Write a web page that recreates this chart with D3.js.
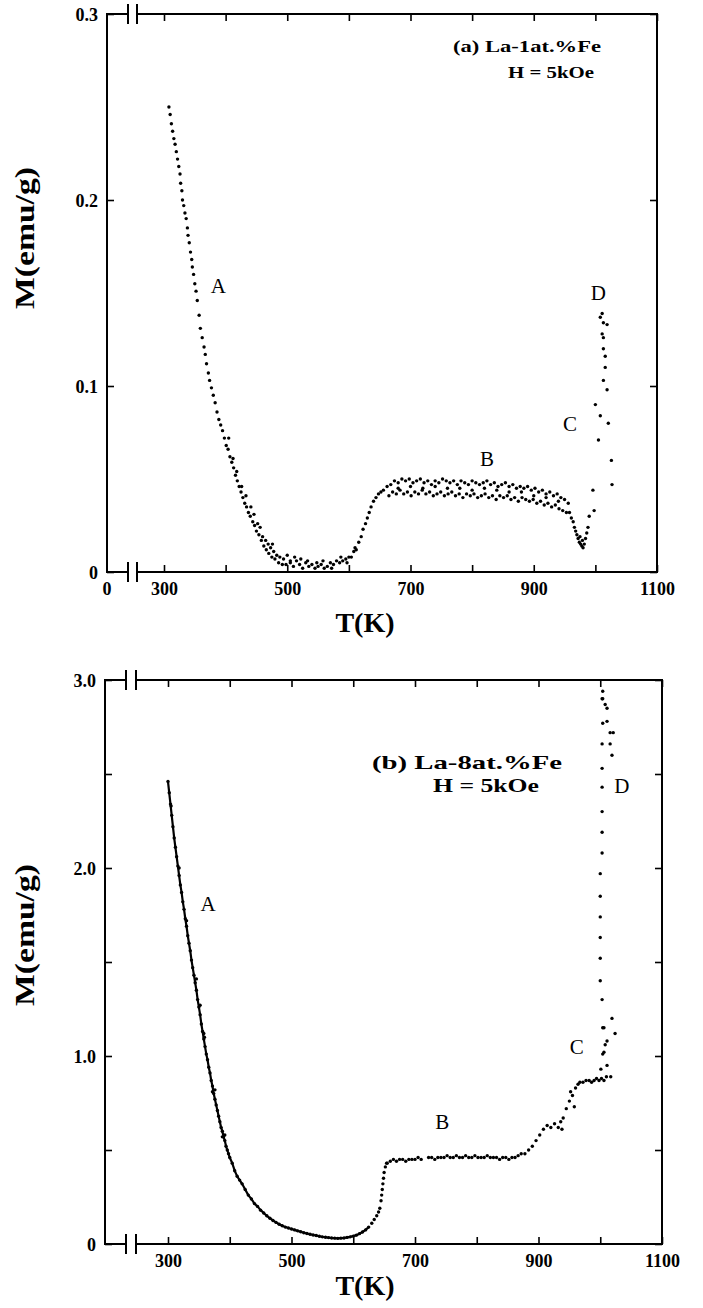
<!DOCTYPE html>
<html>
<head>
<meta charset="utf-8">
<script src="https://cdnjs.cloudflare.com/ajax/libs/d3/7.8.5/d3.min.js"></script>
<style>
  body { margin: 0; background: #fff; }
  svg text { font-family: "Liberation Serif", "DejaVu Serif", serif; fill: #000; }
</style>
</head>
<body>
<div class="chart"></div>
<script>
var svgWidth = 703;
var svgHeight = 1308;

// ---- (a) La-1at.%Fe, H = 5kOe : [T (K), M (emu/g)] ----
var aCurveA = [
  [308,0.250],[310,0.246],[312,0.241],[314,0.237],[316,0.233],[318,0.230],[320,0.226],[322,0.222],
  [324,0.218],[326,0.214],[327,0.209],[329,0.205],[330,0.200],[332,0.197],[334,0.193],[336,0.190],
  [338,0.185],[339,0.181],[341,0.177],[343,0.172],[345,0.168],[346,0.164],[348,0.160],[350,0.155],
  [352,0.151],[354,0.146],[357,0.138],[359,0.131],[362,0.126],[365,0.121],[367,0.117],[369,0.112],
  [372,0.107],[374,0.103],[377,0.099],[380,0.095],[383,0.091],[386,0.086],[389,0.082],[392,0.079],
  [395,0.076],[398,0.072],[401,0.068],[404,0.066],[407,0.062],[410,0.059],[413,0.056],[416,0.052],
  [419,0.049],[422,0.046],[425,0.043],[428,0.040],[431,0.037],[434,0.035],[437,0.032],[440,0.030],
  [444,0.027],[447,0.025],[450,0.022],[454,0.020],[458,0.017],[462,0.014],[466,0.012],[470,0.010],
  [475,0.008],[480,0.007],[486,0.005],[492,0.004],[498,0.004]
];
var aScatterA = [
  [405,0.072],[412,0.061],[418,0.054],[426,0.046],[433,0.041],[441,0.035],[446,0.031],[452,0.026],
  [456,0.024],[460,0.019],[465,0.017],[469,0.015],[473,0.013],[478,0.011],[483,0.009],[476,0.015],
  [488,0.008],[494,0.007],[500,0.009],[505,0.006]
];
var aFlat = [
  [505,0.005],[510,0.003],[515,0.006],[520,0.004],[525,0.002],[530,0.005],[535,0.003],[540,0.004],
  [545,0.002],[550,0.003],[555,0.004],[560,0.002],[565,0.003],[570,0.005],[575,0.004],[580,0.006],
  [585,0.005],[590,0.006],[595,0.007],[600,0.008],[604,0.008],[608,0.011],[610,0.013],[612,0.012],
  [512,0.008],[522,0.007],[533,0.006],[548,0.005],[558,0.006],[572,0.002],[587,0.008],[597,0.005]
];
var aRise = [
  [616,0.016],[620,0.019],[623,0.023],[627,0.026],[630,0.029],[633,0.032],[636,0.035],[640,0.038],
  [644,0.040],[648,0.042],[652,0.043],[656,0.044]
];
var aPlateauB = [
  [662,0.046],[668,0.047],[674,0.049],[680,0.048],[686,0.050],[692,0.049],[698,0.050],[704,0.048],
  [710,0.049],[716,0.050],[722,0.048],[728,0.049],[734,0.047],[740,0.049],[746,0.048],[752,0.050],
  [758,0.049],[764,0.048],[770,0.049],[776,0.047],[782,0.049],[788,0.048],[794,0.047],[800,0.049],
  [806,0.048],[812,0.047],[818,0.048],[824,0.049],[830,0.047],[836,0.048],[842,0.046],[848,0.047],
  [854,0.048],[860,0.046],[866,0.047],[872,0.045],[878,0.046],[884,0.045],[890,0.046],[896,0.044],
  [902,0.045],[908,0.043],[914,0.044],[920,0.042],[926,0.043],[932,0.041],[938,0.042],[944,0.040],
  [950,0.039],[956,0.037],
  [665,0.041],[671,0.043],[677,0.042],[683,0.044],[689,0.042],[695,0.043],[701,0.041],[707,0.043],
  [713,0.042],[719,0.044],[725,0.042],[731,0.043],[737,0.041],[743,0.042],[749,0.043],[755,0.041],
  [761,0.042],[767,0.043],[773,0.041],[779,0.042],[785,0.040],[791,0.042],[797,0.041],[803,0.042],
  [809,0.040],[815,0.041],[821,0.042],[827,0.040],[833,0.041],[839,0.039],[845,0.041],[851,0.040],
  [857,0.041],[863,0.039],[869,0.040],[875,0.038],[881,0.040],[887,0.039],[893,0.038],[899,0.039],
  [905,0.037],[911,0.038],[917,0.036],[923,0.037],[929,0.035],[935,0.036],[941,0.034],[947,0.033],
  [953,0.032],
  [680,0.045],[700,0.046],[720,0.045],[740,0.046],[760,0.045],[780,0.045],[800,0.044],[820,0.045],
  [840,0.044],[860,0.043],[880,0.043],[900,0.041],[920,0.040],[940,0.038]
];
var aDipC = [
  [958,0.032],[961,0.029],[964,0.027],[966,0.024],[968,0.022],[970,0.020],[972,0.018],[974,0.016],
  [976,0.015],[978,0.014],[980,0.013],[982,0.015],[975,0.019],[979,0.017],[984,0.018],[986,0.021],
  [988,0.024],[990,0.030],[996,0.044],[998,0.033],[1000,0.090],[1008,0.084],[1005,0.071],[1021,0.080],
  [1026,0.060],[1027,0.047]
];
var aPeakD = [
  [1011,0.139],[1008,0.137],[1013,0.134],[1019,0.133],[1011,0.128],[1013,0.126],[1013,0.120],
  [1016,0.116],[1016,0.110],[1013,0.103],[1019,0.098]
];

// ---- (b) La-8at.%Fe, H = 5kOe ----
var bCurveA = [
  [300,2.46],[302,2.40],[304,2.34],[306,2.28],[308,2.22],[310,2.16],[312,2.11],[314,2.06],[316,2.01],
  [318,1.96],[320,1.91],[322,1.87],[324,1.82],[326,1.78],[328,1.73],[330,1.69],[332,1.64],[334,1.60],
  [336,1.56],[338,1.51],[340,1.47],[342,1.43],[344,1.39],[346,1.35],[348,1.30],[350,1.26],[352,1.22],
  [354,1.17],[356,1.13],[358,1.09],[360,1.05],[362,1.01],[364,0.98],[366,0.94],[368,0.91],[370,0.87],
  [372,0.84],[374,0.80],[376,0.77],[378,0.74],[380,0.71],[382,0.68],[384,0.65],[386,0.62],[388,0.60],
  [390,0.57],[392,0.55],[394,0.52],[396,0.50],[398,0.48],[400,0.46],[404,0.43],[408,0.39],[412,0.36],
  [416,0.34],[420,0.32],[425,0.29],[430,0.26],[435,0.24],[440,0.215],[445,0.20],[450,0.18],[455,0.165],
  [460,0.15],[465,0.137],[470,0.125],[475,0.115],[480,0.105],[485,0.097],[490,0.09],[495,0.085],
  [500,0.08],[505,0.075],[510,0.07],[515,0.065],[520,0.06],[525,0.056],[530,0.052],[535,0.048],
  [540,0.045],[545,0.041],[550,0.038],[555,0.036],[560,0.034],[565,0.032],[570,0.031],[575,0.030],
  [580,0.031],[585,0.032],[590,0.035],[595,0.038],[600,0.042],[605,0.047],[610,0.055],[615,0.064],
  [620,0.075],[625,0.09]
];
var bScatterA = [
  [305,2.33],[318,2.00],[330,1.72],[346,1.41],[352,1.27],[358,1.12],[359,1.10],[372,0.81],[376,0.82],
  [388,0.57],[392,0.58]
];
var bRise = [
  [630,0.11],[634,0.13],[638,0.15],[641,0.17],[643,0.19],[645,0.23],[646,0.26],[647,0.29],[648,0.32],
  [649,0.35],[650,0.38],[652,0.41],[654,0.43]
];
var bPlateauB = [
  [655,0.43],[660,0.44],[665,0.45],[670,0.44],[675,0.45],[680,0.45],[685,0.44],[690,0.45],[695,0.45],
  [700,0.45],[705,0.46],[710,0.45],[722,0.46],[727,0.46],[732,0.45],[737,0.46],[742,0.46],[747,0.46],
  [752,0.47],[757,0.46],[762,0.46],[767,0.47],[772,0.46],[777,0.46],[782,0.47],[787,0.46],[792,0.46],
  [797,0.47],[802,0.46],[807,0.46],[812,0.46],[817,0.47],[822,0.46],[827,0.46],[832,0.46],[837,0.45],
  [842,0.46],[847,0.46],[852,0.45],[857,0.46],[862,0.46],[867,0.47],[872,0.48]
];
var bStepC = [
  [878,0.48],[884,0.50],[890,0.52],[896,0.55],[902,0.58],[908,0.61],[914,0.63],[920,0.62],[926,0.64],
  [932,0.62],[936,0.65],[938,0.61],[940,0.67],[945,0.72],[950,0.76],[952,0.81],[955,0.79],[958,0.73],
  [960,0.83],[964,0.85],[967,0.86],[972,0.86],[977,0.87],[982,0.87],[986,0.86],[990,0.87],[994,0.88],
  [998,0.87],[1002,0.88],[1006,0.87],[1010,0.89]
];
var bPeakD = [
  [1001,0.93],[1017,0.89],[1011,0.95],[1006,1.02],[1004,1.01],[1011,1.08],[1008,1.06],[1024,1.12],
  [1006,1.15],[1004,1.15],[1019,1.20],[1003,1.30],[1000,1.40],[1000,1.52],[1000,1.63],[1000,1.74],
  [1000,1.85],[1000,1.97],[1003,2.08],[1003,2.19],[1003,2.30],[1003,2.43],[1003,2.53],[1019,2.60],
  [1003,2.66],[1016,2.66],[1016,2.72],[1021,2.72],[1004,2.77],[1011,2.78],[1011,2.85],[1008,2.87],
  [1004,2.90],[1003,2.90],[1004,2.94]
];

// axis ticks and labels
var xTicks = [300, 400, 500, 600, 700, 800, 900, 1000, 1100];
var xTickLabels = [300, 500, 700, 900, 1100];
var aYTicks = [0, 0.1, 0.2, 0.3];
var aYLabels = ["0", "0.1", "0.2", "0.3"];
var bYTicks = [0, 0.5, 1.0, 1.5, 2.0, 2.5, 3.0];
var bYLabels = ["0", "", "1.0", "", "2.0", "", "3.0"];

var svg = d3.select(".chart")
  .append("svg")
  .attr("width", svgWidth)
  .attr("height", svgHeight);

// draws one panel: broken frame, inward ticks, labels, dots
function drawPanel(p) {
  var g = svg.append("g");
  var xR = p.x(1100);
  var yT = p.y(p.yMax);
  var yB = p.y(0);

  var frame = [
    [[p.left, yT], [p.left, yB]],
    [[xR, yT], [xR, yB]],
    [[p.left, yB], [p.brk1, yB]],
    [[p.brk2, yB], [xR, yB]],
    [[p.left, yT], [p.brk1, yT]],
    [[p.brk2, yT], [xR, yT]],
    [[p.brk1, yB - 9], [p.brk1, yB + 9]],
    [[p.brk2, yB - 9], [p.brk2, yB + 9]],
    [[p.brk1, yT - 9], [p.brk1, yT + 9]],
    [[p.brk2, yT - 9], [p.brk2, yT + 9]]
  ];
  g.selectAll(".frame")
    .data(frame)
    .enter().append("line")
    .attr("x1", d => d[0][0]).attr("y1", d => d[0][1])
    .attr("x2", d => d[1][0]).attr("y2", d => d[1][1])
    .attr("stroke", "#000")
    .attr("stroke-width", 2)
    .attr("stroke-linecap", "square");

  // x ticks point inward on the bottom and top edges
  g.append("g")
    .attr("transform", `translate(0, ${yB})`)
    .call(d3.axisBottom(p.x).tickValues(xTicks).tickSize(-7).tickPadding(10)
      .tickFormat(d => xTickLabels.indexOf(d) >= 0 ? d : ""));
  g.append("g")
    .attr("transform", `translate(0, ${yT})`)
    .call(d3.axisTop(p.x).tickValues(xTicks).tickSize(-7).tickFormat(""));

  var leftAxis = g.append("g")
    .attr("transform", `translate(${p.left}, 0)`)
    .call(d3.axisLeft(p.y).tickValues(p.yTicks).tickSize(-7).tickPadding(9)
      .tickFormat((d, i) => p.yLabels[i]));
  g.append("g")
    .attr("transform", `translate(${xR}, 0)`)
    .call(d3.axisRight(p.y).tickValues(p.yTicks).tickSize(-7).tickFormat(""));

  g.selectAll(".domain").remove();
  g.selectAll(".tick line").attr("stroke", "#000").attr("stroke-width", 1.6);
  g.selectAll(".tick text")
    .attr("font-family", "Liberation Serif, serif")
    .attr("font-weight", "bold")
    .attr("font-size", 18)
    .attr("fill", "#000");
  leftAxis.selectAll(".tick text").attr("dy", "0.35em");

  if (p.zeroX) {
    g.append("text")
      .attr("x", p.left)
      .attr("y", yB + 23)
      .attr("text-anchor", "middle")
      .attr("font-weight", "bold")
      .attr("font-size", 18)
      .text("0");
  }

  // continuous trace through the dense part of the curve
  if (p.line) {
    g.append("path")
      .datum(p.line)
      .attr("fill", "none")
      .attr("stroke", "#000")
      .attr("stroke-width", 2.2)
      .attr("d", d3.line().x(d => p.x(d[0])).y(d => p.y(d[1])));
  }

  p.series.forEach(function (s) {
    g.selectAll(null)
      .data(s)
      .enter().append("circle")
      .attr("cx", d => p.x(d[0]))
      .attr("cy", d => p.y(d[1]))
      .attr("r", 1.7)
      .attr("fill", "#000");
  });

  // A, B, C, D branch letters
  g.selectAll(null)
    .data(p.letters)
    .enter().append("text")
    .attr("x", d => p.x(d[1]))
    .attr("y", d => p.y(d[2]))
    .attr("text-anchor", "middle")
    .attr("font-size", 21)
    .text(d => d[0]);

  // axis titles
  g.append("text")
    .attr("transform", `translate(${p.yTitleX}, ${p.yTitleY}) rotate(-90)`)
    .attr("text-anchor", "middle")
    .attr("font-weight", "bold")
    .attr("font-size", 28)
    .attr("textLength", 142)
    .attr("lengthAdjust", "spacingAndGlyphs")
    .text("M(emu/g)");
  g.append("text")
    .attr("x", p.xTitleX)
    .attr("y", p.xTitleY)
    .attr("text-anchor", "middle")
    .attr("font-weight", "bold")
    .attr("font-size", 28)
    .text("T(K)");

  // sample and field annotation
  g.append("text")
    .attr("x", p.noteX)
    .attr("y", p.noteY)
    .attr("font-weight", "bold")
    .attr("font-size", p.noteSize)
    .attr("textLength", p.noteLen)
    .attr("lengthAdjust", "spacingAndGlyphs")
    .text(p.note);
  g.append("text")
    .attr("x", p.fieldX)
    .attr("y", p.fieldY)
    .attr("font-weight", "bold")
    .attr("font-size", p.noteSize)
    .attr("textLength", p.fieldLen)
    .attr("lengthAdjust", "spacingAndGlyphs")
    .text("H = 5kOe");
}

drawPanel({
  x: d3.scaleLinear().domain([300, 1100]).range([164, 657]),
  y: d3.scaleLinear().domain([0, 0.3]).range([572, 14]),
  yMax: 0.3, left: 107, brk1: 128, brk2: 137,
  yTicks: aYTicks, yLabels: aYLabels, zeroX: true,
  series: [aCurveA, aScatterA, aFlat, aRise, aPlateauB, aDipC, aPeakD],
  letters: [["A", 388, 0.150], ["B", 824, 0.057], ["C", 959, 0.076], ["D", 1005, 0.146]],
  yTitleX: 34, yTitleY: 238, xTitleX: 365, xTitleY: 632,
  note: "(a) La-1at.%Fe", noteX: 453, noteY: 52, noteLen: 148, noteSize: 17,
  fieldX: 508, fieldY: 78, fieldLen: 86
});

drawPanel({
  x: d3.scaleLinear().domain([300, 1100]).range([168, 662]),
  y: d3.scaleLinear().domain([0, 3.0]).range([1244, 680]),
  yMax: 3.0, left: 105, brk1: 126, brk2: 136,
  yTicks: bYTicks, yLabels: bYLabels, zeroX: false,
  line: bCurveA,
  series: [bCurveA, bScatterA, bRise, bPlateauB, bStepC, bPeakD],
  letters: [["A", 365, 1.77], ["B", 744, 0.61], ["C", 962, 1.01], ["D", 1035, 2.40]],
  yTitleX: 34, yTitleY: 935, xTitleX: 365, xTitleY: 1295,
  note: "(b) La-8at.%Fe", noteX: 372, noteY: 769, noteLen: 190, noteSize: 19,
  fieldX: 433, fieldY: 792, fieldLen: 106
});
</script>
</body>
</html>
